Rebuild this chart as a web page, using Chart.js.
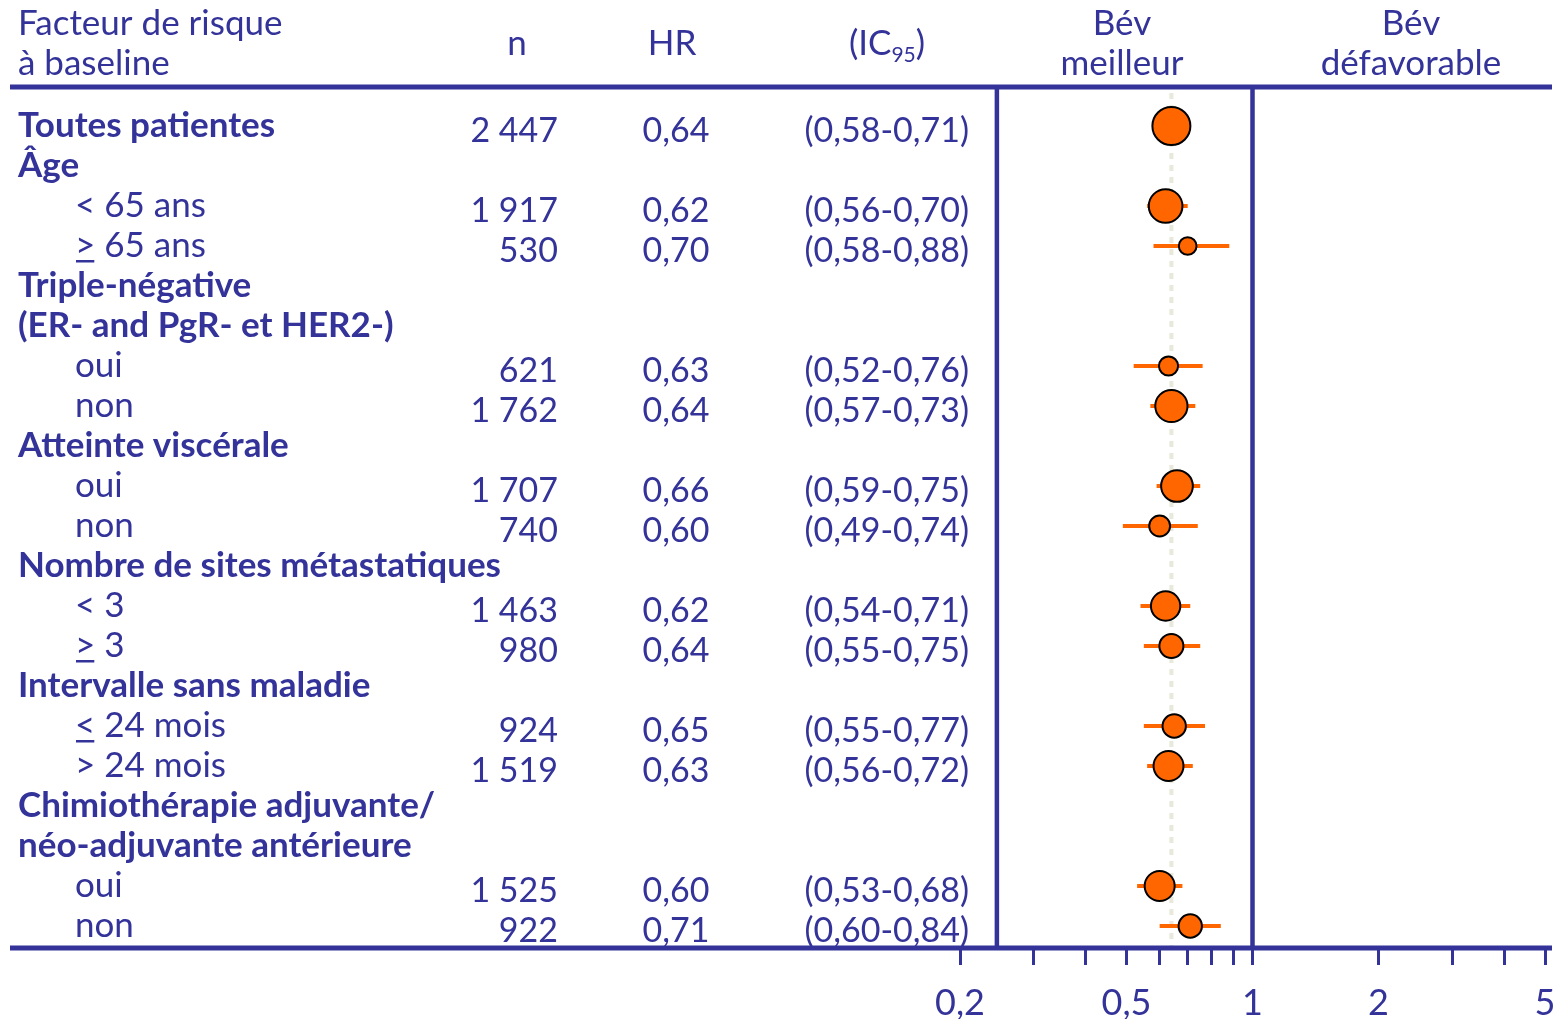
<!DOCTYPE html>
<html>
<head>
<meta charset="utf-8">
<script src="https://cdn.jsdelivr.net/npm/chart.js@4.4.1/dist/chart.umd.min.js"></script>
<style>
  html, body { margin: 0; padding: 0; background: #ffffff; }
</style>
</head>
<body>
<canvas id="forestChart" width="1557" height="1019"></canvas>
<script>
// --- Sous-groupes (une ligne de tableau par entrée) ---
const rowLabels = [
  'Toutes patientes', 'Âge', '< 65 ans', '≥ 65 ans',
  'Triple-négative', '(ER- and PgR- et HER2-)', 'oui', 'non',
  'Atteinte viscérale', 'oui', 'non',
  'Nombre de sites métastatiques', '< 3', '≥ 3',
  'Intervalle sans maladie', '≤ 24 mois', '> 24 mois',
  'Chimiothérapie adjuvante/', 'néo-adjuvante antérieure', 'oui', 'non'
];
const rowIsHeading = [
  true, true, false, false,
  true, true, false, false,
  true, false, false,
  true, false, false,
  true, false, false,
  true, true, false, false
];
const nPatients = [2447, null, 1917, 530, null, null, 621, 1762, null, 1707, 740, null, 1463, 980, null, 924, 1519, null, null, 1525, 922];
const hazardRatio = [0.64, null, 0.62, 0.70, null, null, 0.63, 0.64, null, 0.66, 0.60, null, 0.62, 0.64, null, 0.65, 0.63, null, null, 0.60, 0.71];
const ciLow = [0.58, null, 0.56, 0.58, null, null, 0.52, 0.57, null, 0.59, 0.49, null, 0.54, 0.55, null, 0.55, 0.56, null, null, 0.53, 0.60];
const ciHigh = [0.71, null, 0.70, 0.88, null, null, 0.76, 0.73, null, 0.75, 0.74, null, 0.71, 0.75, null, 0.77, 0.72, null, null, 0.68, 0.84];

// --- Axe HR (log) ---
const axisTicks = [0.2, 0.3, 0.4, 0.5, 0.6, 0.7, 0.8, 0.9, 1, 2, 3, 4, 5];
const axisTickLabels = ['0,2', '', '', '0,5', '', '', '', '', '1', '2', '', '', '5'];
const frameLeftValue = 0.245;
const overallHR = hazardRatio[0];

const BLUE = '#333399';
const ORANGE = '#FF6600';
const FONT = 'Lato, "Open Sans", sans-serif';
const FS = 35;

const fmtDec = (v) => v.toFixed(2).replace('.', ',');
const fmtN = (v) => String(v).replace(/\B(?=(\d{3})+(?!\d))/g, ' ');

const bubbles = [];
hazardRatio.forEach((hr, i) => {
  if (hr == null) return;
  bubbles.push({ x: hr, y: i, r: 19 * Math.sqrt(nPatients[i] / nPatients[0]) });
});

// label with ≥ / ≤ drawn as an underlined > / <
function drawLabel(ctx, text, x, y) {
  const first = text[0];
  if (first === '≥' || first === '≤') {
    const sym = first === '≥' ? '>' : '<';
    const w = ctx.measureText(sym).width;
    ctx.fillText(sym, x, y);
    ctx.fillRect(x + 1, y + 14, w - 2, 2.5);
    ctx.fillText(text.slice(1), x + w, y);
  } else {
    ctx.fillText(text, x, y);
  }
}

const framePlugin = {
  id: 'forestFrame',
  beforeDatasetsDraw(chart) {
    const { ctx, chartArea, scales } = chart;
    const xs = scales.x, ys = scales.y;
    ctx.save();

    // dotted line at overall HR
    const xr = xs.getPixelForValue(overallHR);
    ctx.strokeStyle = '#e8e8dc';
    ctx.lineWidth = 4;
    ctx.setLineDash([6, 6]);
    ctx.beginPath();
    ctx.moveTo(xr, chartArea.top + 6);
    ctx.lineTo(xr, chartArea.bottom);
    ctx.stroke();
    ctx.setLineDash([]);

    // confidence intervals
    ctx.strokeStyle = ORANGE;
    ctx.lineWidth = 4;
    ciLow.forEach((lo, i) => {
      if (lo == null) return;
      const y = ys.getPixelForValue(i);
      ctx.beginPath();
      ctx.moveTo(xs.getPixelForValue(lo), y);
      ctx.lineTo(xs.getPixelForValue(ciHigh[i]), y);
      ctx.stroke();
    });

    // table frame
    ctx.strokeStyle = BLUE;
    ctx.lineWidth = 5;
    ctx.beginPath();
    ctx.moveTo(10, chartArea.top);
    ctx.lineTo(1552, chartArea.top);
    ctx.moveTo(10, chartArea.bottom);
    ctx.lineTo(1552, chartArea.bottom);
    ctx.stroke();
    ctx.lineWidth = 4.5;
    ctx.beginPath();
    [frameLeftValue, 1].forEach((v) => {
      const x = xs.getPixelForValue(v);
      ctx.moveTo(x, chartArea.top);
      ctx.lineTo(x, chartArea.bottom);
    });
    ctx.stroke();
    ctx.restore();
  },
  afterDraw(chart) {
    const { ctx, chartArea, scales } = chart;
    const ys = scales.y;
    const top = chartArea.top;
    ctx.save();
    ctx.fillStyle = BLUE;
    ctx.textBaseline = 'middle';

    // column headers
    ctx.font = `${FS}px ${FONT}`;
    ctx.textAlign = 'left';
    ctx.fillText('Facteur de risque', 18, top - 63);
    ctx.fillText('à baseline', 18, top - 23);
    ctx.textAlign = 'center';
    ctx.fillText('n', 517, top - 43);
    ctx.fillText('HR', 672, top - 43);
    ctx.fillText('Bév', 1122, top - 63);
    ctx.fillText('meilleur', 1122, top - 23);
    ctx.fillText('Bév', 1411, top - 63);
    ctx.fillText('défavorable', 1411, top - 23);
    // (IC95) with subscript
    const subFont = `${Math.round(FS * 0.6)}px ${FONT}`;
    ctx.textAlign = 'left';
    const wA = ctx.measureText('(IC').width;
    const wB = ctx.measureText(')').width;
    ctx.font = subFont;
    const wS = ctx.measureText('95').width;
    const x0 = 887 - (wA + wS + wB) / 2;
    ctx.font = `${FS}px ${FONT}`;
    ctx.fillText('(IC', x0, top - 43);
    ctx.fillText(')', x0 + wA + wS, top - 43);
    ctx.font = subFont;
    ctx.fillText('95', x0 + wA, top - 32);

    // rows
    rowLabels.forEach((label, i) => {
      const y = ys.getPixelForValue(i);
      ctx.textAlign = 'left';
      if (rowIsHeading[i]) {
        ctx.font = `bold ${FS}px ${FONT}`;
        drawLabel(ctx, label, 18, y);
      } else {
        ctx.font = `${FS}px ${FONT}`;
        drawLabel(ctx, label, 75, y);
      }
      if (hazardRatio[i] == null) return;
      const yv = y + 5;
      ctx.font = `${FS - 1}px ${FONT}`;
      ctx.textAlign = 'right';
      ctx.fillText(fmtN(nPatients[i]), 558, yv);
      ctx.textAlign = 'center';
      ctx.fillText(fmtDec(hazardRatio[i]), 676, yv);
      ctx.textAlign = 'right';
      ctx.fillText(`(${fmtDec(ciLow[i])}-${fmtDec(ciHigh[i])})`, 969, yv);
    });
    ctx.restore();
  }
};

new Chart(document.getElementById('forestChart'), {
  type: 'bubble',
  data: {
    datasets: [{
      data: bubbles,
      backgroundColor: ORANGE,
      borderColor: '#000000',
      borderWidth: 2,
      hoverBorderWidth: 2,
      clip: false
    }]
  },
  options: {
    responsive: false,
    animation: false,
    events: [],
    layout: {
      autoPadding: false,
      padding: { left: 960, right: 12, top: 87, bottom: 0 }
    },
    plugins: {
      legend: { display: false },
      tooltip: { enabled: false }
    },
    scales: {
      x: {
        type: 'logarithmic',
        min: 0.2,
        max: 5,
        afterBuildTicks: (scale) => {
          scale.ticks = axisTicks.map((v) => ({ value: v }));
        },
        afterFit: (scale) => {
          scale.height = 71;
          scale.paddingLeft = 0;
          scale.paddingRight = 0;
        },
        border: { display: false },
        grid: {
          drawOnChartArea: false,
          drawTicks: true,
          tickLength: 17,
          color: BLUE,
          lineWidth: 3
        },
        ticks: {
          autoSkip: false,
          maxRotation: 0,
          padding: 17,
          color: BLUE,
          font: { family: FONT, size: 36 },
          callback: (value, index) => axisTickLabels[index]
        }
      },
      y: {
        type: 'linear',
        display: false,
        reverse: true,
        min: -0.975,
        max: 20.55
      }
    }
  },
  plugins: [framePlugin]
});
</script>
</body>
</html>
